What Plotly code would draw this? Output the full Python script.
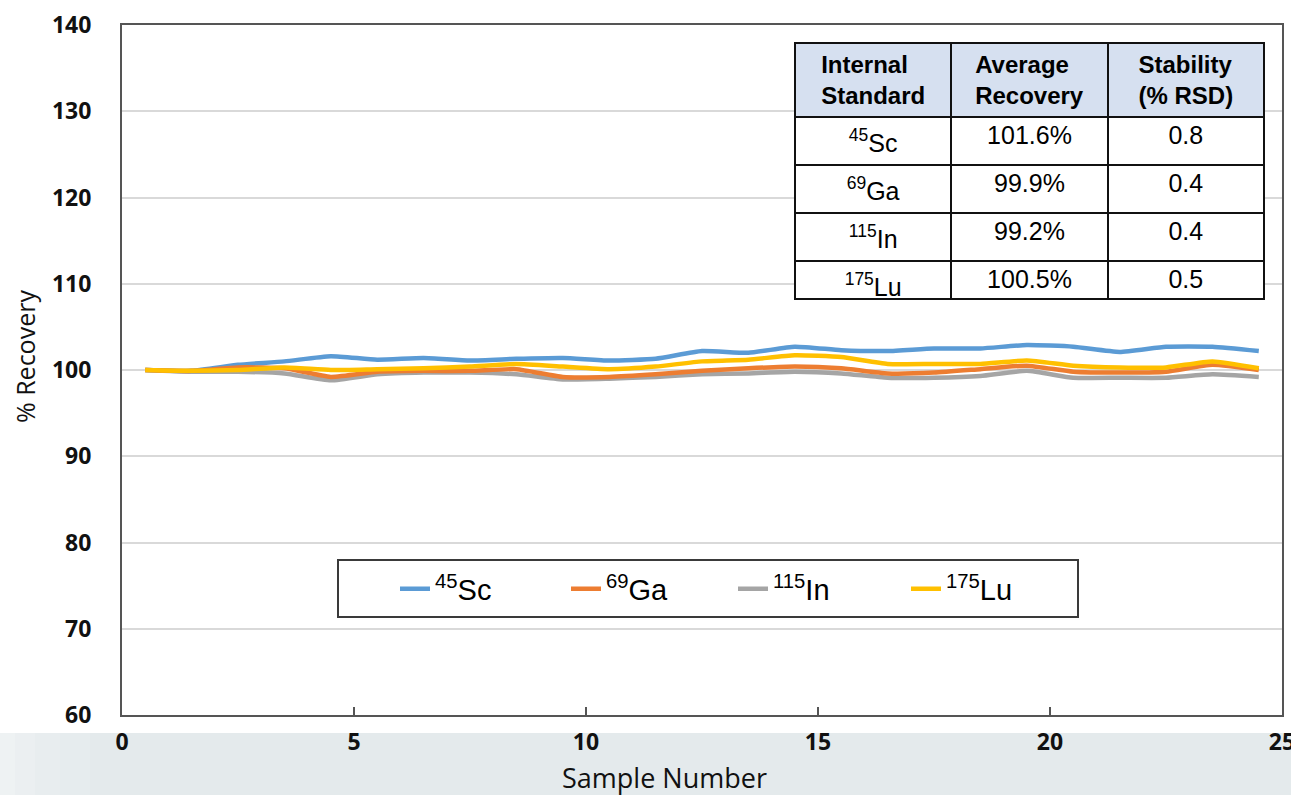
import plotly.graph_objects as go

# ---------------- data ----------------
samples = [0.5, 1.5, 2.5, 3.5, 4.5, 5.5, 6.5, 7.5, 8.5, 9.5, 10.5, 11.5, 12.5,
           13.5, 14.5, 15.5, 16.5, 17.5, 18.5, 19.5, 20.5, 21.5, 22.5, 23.5, 24.5]

sc45 = [100.0, 99.9, 100.6, 101.0, 101.6, 101.2, 101.4, 101.1, 101.3, 101.4, 101.1, 101.3, 102.2,
        102.0, 102.7, 102.3, 102.2, 102.5, 102.5, 102.9, 102.7, 102.1, 102.7, 102.7, 102.2]
ga69 = [100.0, 99.9, 100.3, 100.2, 99.2, 99.8, 99.9, 99.9, 100.1, 99.2, 99.2, 99.5, 99.9,
        100.2, 100.4, 100.2, 99.6, 99.7, 100.1, 100.5, 99.8, 99.7, 99.8, 100.6, 100.0]
in115 = [100.0, 99.8, 99.8, 99.6, 98.8, 99.5, 99.7, 99.7, 99.5, 98.9, 99.0, 99.2, 99.5,
         99.6, 99.8, 99.6, 99.1, 99.1, 99.3, 99.9, 99.1, 99.1, 99.1, 99.5, 99.2]
lu175 = [100.0, 99.9, 100.0, 100.3, 100.0, 100.1, 100.2, 100.4, 100.7, 100.4, 100.1, 100.4, 101.0,
         101.2, 101.7, 101.5, 100.7, 100.7, 100.7, 101.1, 100.5, 100.3, 100.3, 101.0, 100.2]

series_names = ["<sup>45</sup>Sc", "<sup>69</sup>Ga", "<sup>115</sup>In", "<sup>175</sup>Lu"]
series_colors = ["#5b9bd5", "#ed7d31", "#a5a5a5", "#ffc000"]

table_header = ["<b>Internal<br>Standard</b>", "<b>Average<br>Recovery</b>", "<b>Stability<br>(% RSD)</b>"]
table_standard = ["<sup>45</sup>Sc", "<sup>69</sup>Ga", "<sup>115</sup>In", "<sup>175</sup>Lu"]
table_recovery = ["101.6%", "99.9%", "99.2%", "100.5%"]
table_rsd = ["0.8", "0.4", "0.4", "0.5"]

x_ticks = [0, 5, 10, 15, 20, 25]
y_ticks = [60, 70, 80, 90, 100, 110, 120, 130, 140]
x_title = "Sample Number"
y_title = "% Recovery"

# ---------------- figure ----------------
W, H = 1291, 795
ML, MR, MT, MB = 122, 9, 25, 80
PW, PH = W - ML - MR, H - MT - MB


def px_x(p):
    return (p - ML) / PW


def px_y(p):
    return (H - MB - p) / PH


fig = go.Figure()

values = [sc45, ga69, in115, lu175]
legend_ids = ["legend", "legend2", "legend3", "legend4"]
draw_order = [0, 2, 1, 3]
for i in draw_order:
    fig.add_trace(go.Scatter(
        x=samples, y=values[i], mode="lines", name=series_names[i],
        line=dict(color=series_colors[i], width=4.5, shape="spline", smoothing=0.5),
        legend=legend_ids[i], hoverinfo="skip",
    ))

TBL_L, TBL_R, TBL_T, TBL_B = 795, 1264, 43, 299
fig.add_trace(go.Table(
    domain=dict(x=[px_x(TBL_L), px_x(TBL_R)], y=[px_y(TBL_B), px_y(TBL_T)]),
    columnwidth=[1, 1, 1],
    header=dict(values=table_header, fill_color="#d6e0f0", align="center",
                line=dict(color="#111111", width=2), height=73,
                font=dict(family="Liberation Sans, Arial", size=24, color="#000000")),
    cells=dict(values=[table_standard, table_recovery, table_rsd], fill_color="#ffffff",
               align="center", line=dict(color="#111111", width=2), height=48,
               font=dict(family="Liberation Sans, Arial", size=25, color="#000000")),
))

legend_x_px = [395, 566, 733, 906]
leg_font = dict(family="Liberation Sans, Arial", size=29, color="#000000")
legend_layouts = {}
for lid, xp in zip(legend_ids, legend_x_px):
    legend_layouts[lid] = dict(x=px_x(xp), y=px_y(589), xanchor="left", yanchor="middle",
                               orientation="h", font=leg_font, bgcolor="rgba(0,0,0,0)",
                               borderwidth=0)

band_steps = [(0, 15, "#eef2f3"), (15, 35, "#ebeff1"), (35, 60, "#e8edef"), (60, 90, "#e6ecee")]
shapes = [
    # slide band at the bottom
    dict(type="rect", xref="paper", yref="paper", x0=px_x(0), x1=px_x(W), y0=px_y(H), y1=px_y(733),
         fillcolor="#e4eaec", line=dict(width=0), layer="below"),
]
for a, b, c in band_steps:
    shapes.append(dict(type="rect", xref="paper", yref="paper", x0=px_x(a), x1=px_x(b),
                       y0=px_y(H), y1=px_y(733), fillcolor=c, line=dict(width=0), layer="below"))
shapes += [
    # legend box
    dict(type="rect", xref="paper", yref="paper", x0=px_x(338), x1=px_x(1078), y0=px_y(617), y1=px_y(560),
         fillcolor="#ffffff", line=dict(color="#3a3a3a", width=2), layer="below"),
    # table outer frame
    dict(type="rect", xref="paper", yref="paper", x0=px_x(TBL_L), x1=px_x(TBL_R),
         y0=px_y(TBL_B), y1=px_y(TBL_T), fillcolor="rgba(0,0,0,0)",
         line=dict(color="#111111", width=2), layer="above"),
]

annotations = [
    dict(text=x_title, xref="paper", yref="paper", x=px_x(664), y=px_y(778),
         xanchor="center", yanchor="middle", showarrow=False,
         font=dict(family="Open Sans", size=27, color="#111111")),
    dict(text=y_title, xref="paper", yref="paper", x=px_x(25), y=px_y(357),
         xanchor="center", yanchor="middle", showarrow=False, textangle=-90,
         font=dict(family="Open Sans", size=25, color="#111111")),
]

fig.update_layout(
    width=W, height=H,
    margin=dict(l=ML, r=MR, t=MT, b=MB, autoexpand=False),
    paper_bgcolor="#ffffff", plot_bgcolor="rgba(0,0,0,0)",
    showlegend=True,
    shapes=shapes,
    annotations=annotations,
    font=dict(family="Open Sans", color="#000000"),
    xaxis=dict(range=[0, 25], tickvals=x_ticks, showgrid=False, zeroline=False,
               showline=True, mirror=True, linecolor="#555555", linewidth=2,
               ticks="inside", ticklen=8, tickwidth=1.5, tickcolor="#555555",
               tickfont=dict(family="Open Sans", size=23, color="#111111", weight="bold"),
               ticklabelstandoff=5, ticklabeloverflow="allow"),
    yaxis=dict(range=[60, 140], tickvals=y_ticks, showgrid=True, gridcolor="#d9d9d9", gridwidth=2,
               zeroline=False, showline=True, mirror=True, linecolor="#555555", linewidth=2,
               ticks="", tickfont=dict(family="Open Sans", size=23, color="#111111", weight="bold"),
               ticklabelstandoff=24),
    **legend_layouts,
)

fig.write_html("out.html", config={"displayModeBar": False},
               post_script="document.body.style.margin='0px';document.body.style.overflow='hidden';")
